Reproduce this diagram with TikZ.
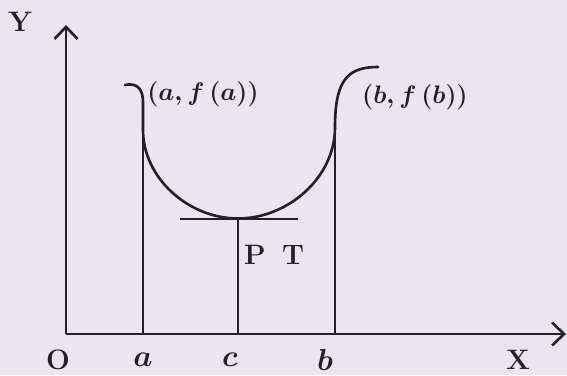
\documentclass[tikz,border=0pt]{standalone}
\usepackage{amsmath}
\usepackage{amssymb}
\usepackage{tikz}
\usetikzlibrary{arrows.meta}
\definecolor{paper}{RGB}{234,229,238}
\definecolor{ink}{RGB}{38,30,40}

\begin{document}
\begin{tikzpicture}[>={Straight Barb[length=2.4mm, width=4.6mm]}, line width=1.5pt, color=ink, font=\fontsize{16}{19}\selectfont\bfseries\boldmath]

  \fill[paper] (0,0) rectangle (11.34,7.5);
  \useasboundingbox (0,0) rectangle (11.34,7.5);

  % axes
  \coordinate (O) at (1.32,0.82);
  \coordinate (ytop) at (1.32,7.0);
  \coordinate (xend) at (11.32,0.82);
  \draw[->] (O) -- (ytop);
  \draw[->] (O) -- (xend);

  \node (ylab) at (0.4,7.06) {Y};
  \node (xlab) at (10.36,0.3) {X};
  \node (olab) at (1.16,0.3) {O};

  % feet of the ordinates
  \coordinate (a0) at (2.86,0.82);
  \coordinate (c0) at (4.76,0.82);
  \coordinate (b0) at (6.7,0.82);
  \node (alab) at (2.86,0.3) {$a$};
  \node (clab) at (4.6,0.3) {$c$};
  \node (blab) at (6.5,0.3) {$b$};

  % points on the curve
  \coordinate (fa) at (2.86,5.45);
  \coordinate (fc) at (4.76,3.13);
  \coordinate (fb) at (6.7,4.95);

  \draw[line cap=round] (2.5,5.8) .. controls (2.8,5.86) and (2.86,5.65) .. (fa) -- (2.86,4.9)
    .. controls (2.86,3.95) and (3.76,3.13) .. (fc)
    .. controls (5.76,3.13) and (6.7,3.95) .. (fb)
    .. controls (6.7,5.9) and (6.95,6.16) .. (7.56,6.16);

  \draw (a0) -- (fa);
  \draw (c0) -- (fc);
  \draw (b0) -- (fb);

  % tangent at c
  \coordinate (t1) at (3.6,3.12);
  \coordinate (t2) at (5.96,3.12);
  \draw (t1) -- (t2);
  \node (plab) at (5.1,2.4) {P};
  \node (tlab) at (5.86,2.4) {T};

  \node[font=\fontsize{14.5}{17}\selectfont\boldmath] (lfa) at (4.06,5.62) {$(a, f\,(a))$};
  \node[font=\fontsize{14.5}{17}\selectfont\boldmath] (lfb) at (8.3,5.56) {$(b, f\,(b))$};

\end{tikzpicture}
\end{document}
